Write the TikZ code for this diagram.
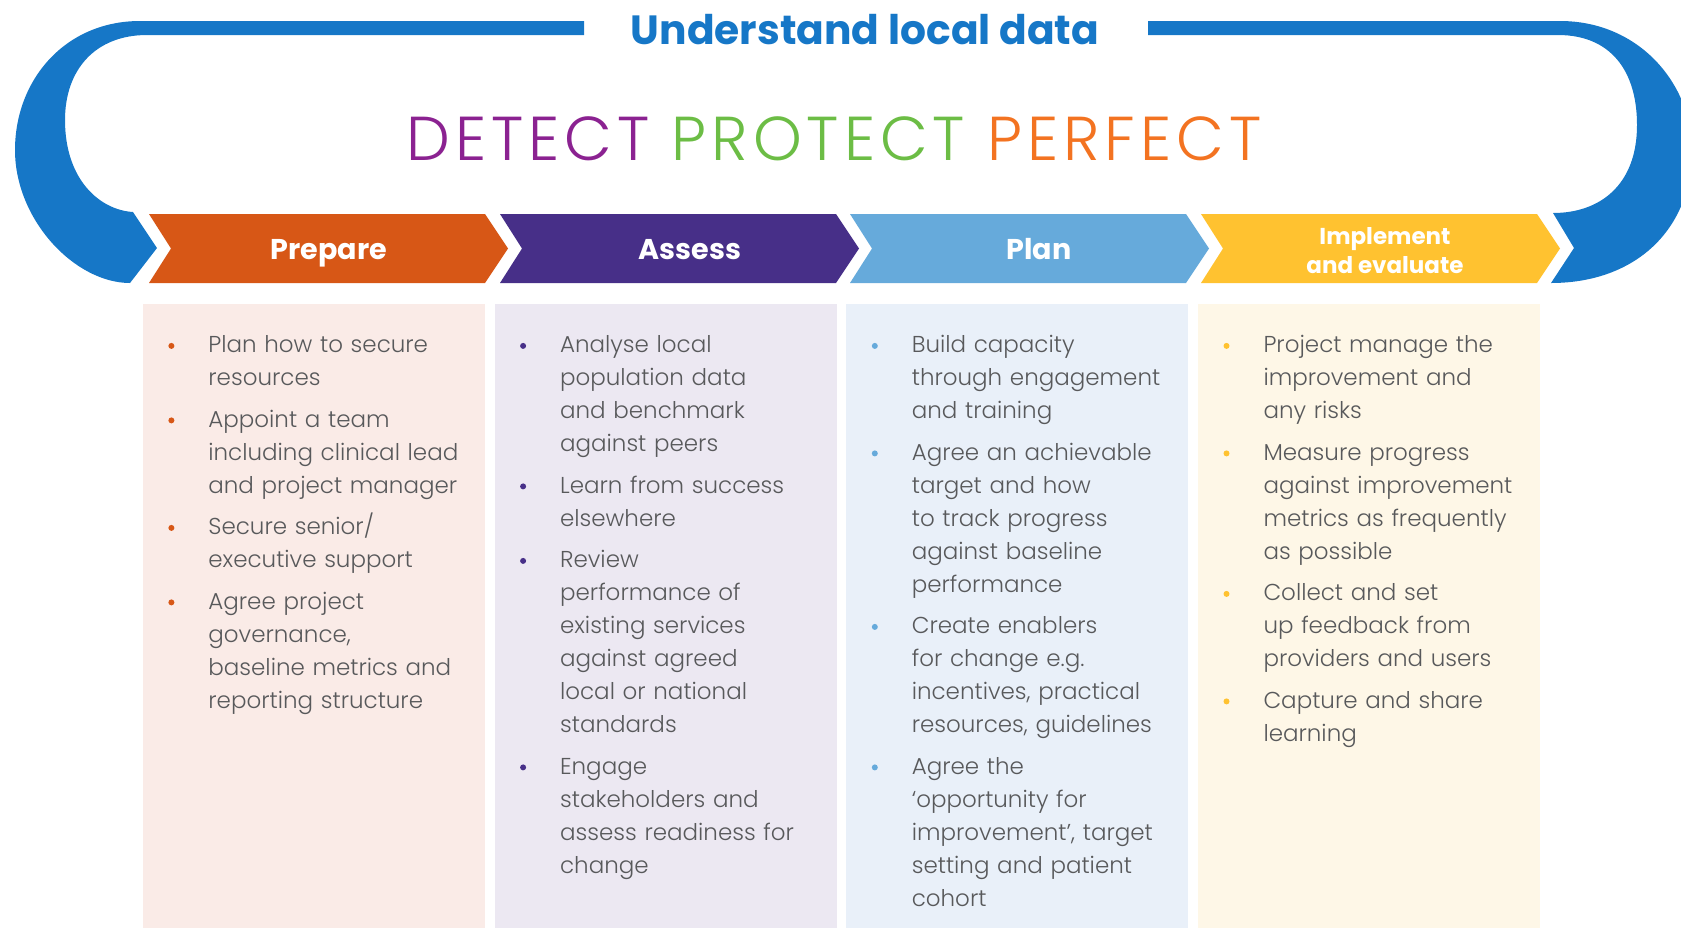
\documentclass[tikz,border=0pt]{standalone}
\usepackage{fontspec}
\setmainfont{Poppins}
\IfFontExistsTF{Poppins Light}{%
  \newfontfamily\plight{Poppins Light}%
  \newfontfamily\plightwide{Poppins Light}[LetterSpace=8]}{%
  \newfontfamily\plight{Poppins}%
  \newfontfamily\plightwide{Poppins}[LetterSpace=8]}
\definecolor{arcblue}{HTML}{1677C7}
\definecolor{cprep}{HTML}{D75716}
\definecolor{cass}{HTML}{472F88}
\definecolor{cplan}{HTML}{66AADB}
\definecolor{cimp}{HTML}{FFC230}
\definecolor{fprep}{HTML}{FAEBE7}
\definecolor{fass}{HTML}{ECE8F2}
\definecolor{fplan}{HTML}{E9F0F9}
\definecolor{fimp}{HTML}{FEF7E7}
\definecolor{dpurple}{HTML}{8B2291}
\definecolor{dgreen}{HTML}{6CBD45}
\definecolor{dorange}{HTML}{F37321}
\definecolor{textgray}{HTML}{58595B}
\newcommand\bdot[1]{\tikz[baseline=0pt]\fill[#1](0pt,3.3pt) circle (1.5pt);}
\newcommand\bitem[2]{\noindent\llap{\bdot{#1}\hspace{17pt}}\strut#2\par\vspace{4.25pt}}
\tikzset{
  hdr/.style={text=white, inner sep=0pt, font=\bfseries\fontsize{14.3}{16}\selectfont},
  hdrsmall/.style={text=white, inner sep=0pt, align=center, font=\bfseries\fontsize{11.5}{14.5}\selectfont},
  coltext/.style={anchor=north west, inner sep=0pt, text width=150pt, align=left, text=textgray,
    font=\plight\fontsize{11.5}{16.5}\selectfont},
}
\begin{document}
\begin{tikzpicture}[x=0.5pt,y=-0.5pt]
\useasboundingbox (0,0) rectangle (1681,928);
\clip (0,0) rectangle (1681,928);
% columns
\foreach \X/\c in {143/fprep,494.7/fass,846.4/fplan,1198.1/fimp}
  \fill[\c] (\X,304) rectangle ++(342,624);
% chevrons
\foreach \L/\c in {149/cprep,500/cass,850/cplan,1201/cimp}
  \fill[\c] (\L,214) -- ++(336,0) -- ++(23,34.5) -- ++(-23,34.5) -- ++(-336,0) -- ++(22,-34.5) -- cycle;
% blue arc, left piece
\fill[arcblue] (584,21) -- (140,21) .. controls (65,21) and (15,80) .. (15,150)
  .. controls (15,220) and (75,283) .. (130,283) -- (157,248) -- (133,212)
  .. controls (100,210) and (65,180) .. (65,120) .. controls (65,70) and (95,35) .. (147,35)
  -- (584,35) -- cycle;
% blue arc, right piece
\fill[arcblue] (1148,21) -- (1560,21) .. controls (1640,21) and (1692,85) .. (1692,150)
  .. controls (1692,230) and (1635,283) .. (1551,283) -- (1574,248) -- (1553,213)
  .. controls (1600,213) and (1637,185) .. (1637,125) .. controls (1637,70) and (1610,35) .. (1558,35)
  -- (1148,35) -- cycle;
% titles
\node[anchor=base, inner sep=0pt, text=arcblue, font=\bfseries\fontsize{20.4}{24}\selectfont] (title) at (865,44) {Understand local data};
\node[anchor=base, inner sep=0pt, font=\plightwide\fontsize{31}{36}\selectfont] (motto) at (834,160)
  {\textcolor{dpurple}{DETECT} \textcolor{dgreen}{PROTECT} \textcolor{dorange}{PERFECT}};
% chevron labels
\node[hdr, anchor=base] (lprep) at (329,259) {Prepare};
\node[hdr, anchor=base] (lass) at (690,259) {Assess};
\node[hdr, anchor=base] (lplan) at (1039,259) {Plan};
\node[hdrsmall, anchor=center] (limp) at (1385,251) {Implement\\and evaluate};
% column texts
\node[coltext] (t1) at (208,329) {%
\bitem{cprep}{Plan how to secure\\resources}%
\bitem{cprep}{Appoint a team\\including clinical lead\\and project manager}%
\bitem{cprep}{Secure senior/\\executive support}%
\bitem{cprep}{Agree project\\governance,\\baseline metrics and\\reporting structure}};
\node[coltext] (t2) at (559.7,329) {%
\bitem{cass}{Analyse local\\population data\\and benchmark\\against peers}%
\bitem{cass}{Learn from success\\elsewhere}%
\bitem{cass}{Review\\performance of\\existing services\\against agreed\\local or national\\standards}%
\bitem{cass}{Engage\\stakeholders and\\assess readiness for\\change}};
\node[coltext] (t3) at (911.4,329) {%
\bitem{cplan}{Build capacity\\through engagement\\and training}%
\bitem{cplan}{Agree an achievable\\target and how\\to track progress\\against baseline\\performance}%
\bitem{cplan}{Create enablers\\for change e.g.\\incentives, practical\\resources, guidelines}%
\bitem{cplan}{Agree the\\‘opportunity for\\improvement’, target\\setting and patient\\cohort}};
\node[coltext] (t4) at (1263.1,329) {%
\bitem{cimp}{Project manage the\\improvement and\\any risks}%
\bitem{cimp}{Measure progress\\against improvement\\metrics as frequently\\as possible}%
\bitem{cimp}{Collect and set\\up feedback from\\providers and users}%
\bitem{cimp}{Capture and share\\learning}};
\end{tikzpicture}
\end{document}
